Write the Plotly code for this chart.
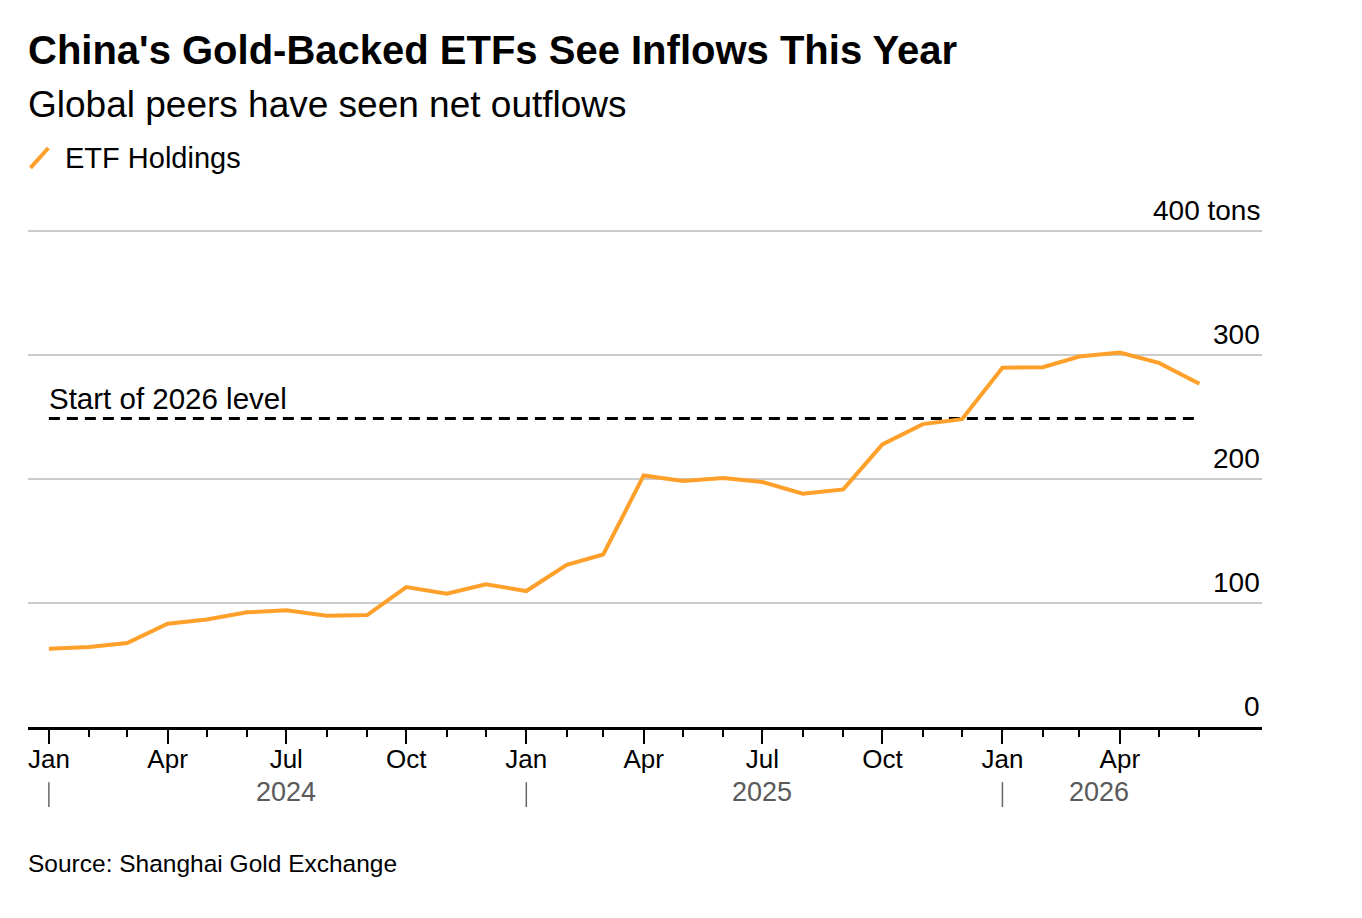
import plotly.graph_objects as go

# Monthly ETF holdings (tons), Jan 2024 - Jun 2026
months = [
    "2024-01-01", "2024-02-01", "2024-03-01", "2024-04-01", "2024-05-01", "2024-06-01",
    "2024-07-01", "2024-08-01", "2024-09-01", "2024-10-01", "2024-11-01", "2024-12-01",
    "2025-01-01", "2025-02-01", "2025-03-01", "2025-04-01", "2025-05-01", "2025-06-01",
    "2025-07-01", "2025-08-01", "2025-09-01", "2025-10-01", "2025-11-01", "2025-12-01",
    "2026-01-01", "2026-02-01", "2026-03-01", "2026-04-01", "2026-05-01", "2026-06-01",
]
holdings = [
    63.2, 64.5, 67.7, 83.3, 86.8, 92.5,
    94.1, 89.8, 90.3, 112.9, 107.5, 115.1,
    109.7, 130.9, 139.2, 203.0, 198.4, 200.8,
    197.6, 188.2, 191.7, 228.0, 244.4, 248.4,
    289.8, 290.3, 298.9, 302.2, 293.8, 276.9,
]
start_2026_level = 248.9

y_ticks = [0, 100, 200, 300, 400]
y_labels = ["0", "100", "200", "300", "400 tons"]

x_ticks = ["2024-01-01", "2024-04-01", "2024-07-01", "2024-10-01",
           "2025-01-01", "2025-04-01", "2025-07-01", "2025-10-01",
           "2026-01-01", "2026-04-01"]
x_labels = ["Jan", "Apr", "Jul", "Oct", "Jan", "Apr", "Jul", "Oct", "Jan", "Apr"]

years = ["2024", "2025", "2026"]
year_label_pos = ["2024-07-01", "2025-07-01", "2026-03-16"]
year_starts = ["2024-01-01", "2025-01-01", "2026-01-01"]

ORANGE = "#FFA02B"
FONT = "Liberation Sans"

fig = go.Figure()

# dashed reference level
fig.add_trace(go.Scatter(
    x=[months[0], months[-1]],
    y=[start_2026_level, start_2026_level],
    mode="lines",
    line=dict(color="black", width=2.8, dash="11px,7px"),
    hoverinfo="skip",
    showlegend=False,
))

fig.add_trace(go.Scatter(
    x=months,
    y=holdings,
    mode="lines",
    name="ETF Holdings",
    line=dict(color=ORANGE, width=4),
    showlegend=False,
))

annotations = [
    dict(text="<b>China's Gold-Backed ETFs See Inflows This Year</b>",
         x=0, y=1.362, xref="paper", yref="paper", xanchor="left", yanchor="middle",
         xshift=-2, showarrow=False, font=dict(size=40, color="black", family=FONT)),
    dict(text="Global peers have seen net outflows",
         x=0, y=1.253, xref="paper", yref="paper", xanchor="left", yanchor="middle",
         xshift=-2, showarrow=False, font=dict(size=37, color="black", family=FONT)),
    dict(text="ETF Holdings",
         x=0.030, y=1.145, xref="paper", yref="paper", xanchor="left", yanchor="middle",
         xshift=-2, showarrow=False, font=dict(size=29, color="black", family=FONT)),
    dict(text="Start of 2026 level",
         x=months[0], y=start_2026_level, xref="x", yref="y", xanchor="left", yanchor="bottom",
         xshift=-2, yshift=2, showarrow=False, font=dict(size=29.5, color="black", family=FONT)),
    dict(text="Source: Shanghai Gold Exchange",
         x=0, y=-0.274, xref="paper", yref="paper", xanchor="left", yanchor="middle",
         xshift=-2, showarrow=False, font=dict(size=24.5, color="black", family=FONT)),
]

for v, lab in zip(y_ticks, y_labels):
    annotations.append(dict(
        text=lab, x=1, y=v, xref="paper", yref="y", xanchor="right", yanchor="bottom",
        yshift=3, showarrow=False, font=dict(size=28, color="black", family=FONT)))

for yr, pos in zip(years, year_label_pos):
    annotations.append(dict(
        text=yr, x=pos, y=-0.130, xref="x", yref="paper", xanchor="center", yanchor="middle",
        showarrow=False, font=dict(size=27, color="#5a5a5a", family=FONT)))

shapes = [
    # legend slash icon
    dict(type="line", xref="paper", yref="paper", x0=0.002, y0=1.125, x1=0.0165, y1=1.165,
         line=dict(color=ORANGE, width=4)),
]
for ys in year_starts:
    shapes.append(dict(type="line", xref="x", yref="paper", x0=ys, x1=ys,
                       y0=-0.111, y1=-0.161, line=dict(color="#666666", width=1.5)))

fig.update_layout(
    width=1346,
    height=902,
    margin=dict(l=20, r=92, t=222, b=183),
    paper_bgcolor="white",
    plot_bgcolor="white",
    font=dict(family=FONT, color="black"),
    annotations=annotations,
    shapes=shapes,
    xaxis=dict(
        type="date",
        range=["2023-12-16", "2026-07-19"],
        tickmode="array",
        tickvals=x_ticks,
        ticktext=x_labels,
        ticks="outside",
        ticklen=14,
        tickwidth=2,
        tickcolor="black",
        ticklabelstandoff=-7,
        tickfont=dict(size=26, color="black", family=FONT),
        minor=dict(tickvals=months, ticks="outside", ticklen=7,
                   tickwidth=2, tickcolor="black", showgrid=False),
        showgrid=False,
        showline=True,
        linecolor="black",
        linewidth=2.5,
        zeroline=False,
    ),
    yaxis=dict(
        range=[0, 401],
        tickmode="array",
        tickvals=y_ticks,
        showticklabels=False,
        showgrid=True,
        gridcolor="#cccccc",
        gridwidth=1.5,
        zeroline=False,
        fixedrange=True,
    ),
)

fig.write_html("out.html")
